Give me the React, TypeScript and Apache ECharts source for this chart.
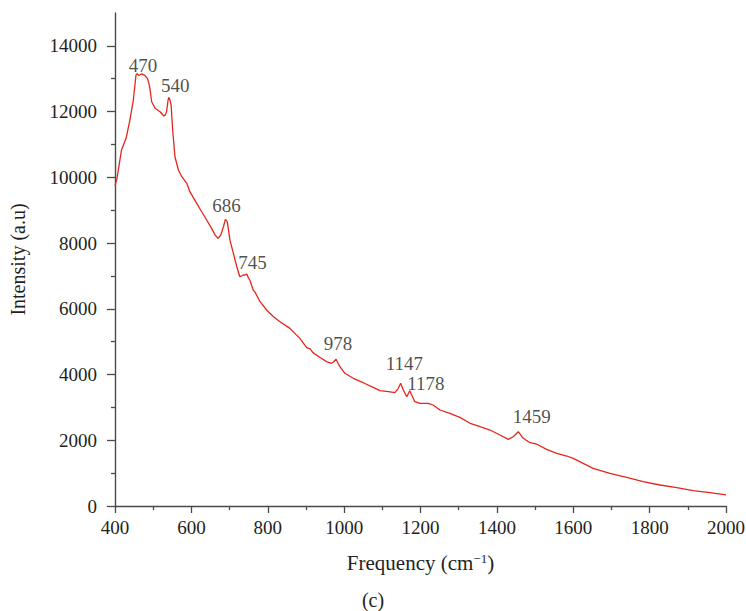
import React, { useEffect, useRef } from "react";
import * as echarts from "echarts";

const frequency = [
  400, 405, 417, 429, 439, 448, 455, 458, 463, 470, 478, 485, 490, 492, 496, 505, 518, 528, 532, 535,
  539, 541, 544, 547, 551, 557, 566, 575, 588, 596, 614, 627, 640, 653, 662, 670, 677, 684, 689, 694,
  701, 710, 719, 727, 736, 740, 745, 749, 753, 762, 767, 780, 797, 815, 832, 858, 884, 902, 911, 919,
  937, 954, 967, 972, 979, 985, 989, 1002, 1024, 1050, 1076, 1094, 1116, 1133, 1142, 1148, 1155, 1164,
  1172, 1177, 1185, 1199, 1220, 1233, 1251, 1277, 1303, 1330, 1356, 1382, 1408, 1430, 1443, 1456,
  1469, 1487, 1504, 1530, 1557, 1583, 1600, 1626, 1652, 1696, 1740, 1783, 1827, 1871, 1914, 1958, 2000,
];

const intensity = [
  9750, 9950, 10830, 11187, 11743, 12352, 13112, 13150, 13100, 13150, 13100, 13012, 12800, 12656, 12300,
  12100, 11996, 11865, 11900, 12000, 12350, 12434, 12350, 12200, 11440, 10627, 10222, 10019, 9817, 9563,
  9209, 8953, 8701, 8448, 8245, 8144, 8245, 8497, 8722, 8650, 8092, 7688, 7280, 6976, 7028, 7028, 7060,
  6950, 6876, 6571, 6500, 6216, 5963, 5760, 5608, 5405, 5100, 4820, 4780, 4660, 4520, 4392, 4342, 4380,
  4463, 4320, 4240, 4038, 3885, 3751, 3611, 3508, 3477, 3447, 3581, 3733, 3529, 3325, 3508, 3377, 3173,
  3124, 3124, 3073, 2921, 2820, 2698, 2516, 2413, 2312, 2160, 2029, 2108, 2260, 2060, 1926, 1886, 1725,
  1603, 1521, 1451, 1299, 1147, 995, 873, 739, 639, 557, 465, 405, 340,
];

const peakLabels = ["470", "540", "686", "745", "978", "1147", "1178", "1459"];
const peakLabelX = [473, 558, 692, 760, 984, 1158, 1214, 1491];
const peakLabelY = [13417, 12787, 9157, 7402, 4959, 4350, 3742, 2717];

const yMajorTicks = [0, 2000, 4000, 6000, 8000, 10000, 12000, 14000];
const yMinorTicks = [1000, 3000, 5000, 7000, 9000, 11000, 13000];

const FONT = "'Liberation Serif', 'Times New Roman', serif";
const TEXT = "#231f20";
const AXIS = "#4a4a4a";

export default function App() {
  const ref = useRef<HTMLDivElement>(null);

  useEffect(() => {
    if (!ref.current) return;
    const chart = echarts.init(ref.current, undefined, { renderer: "svg" });
    const lineData = frequency.map((f, i) => [f, intensity[i]]);
    const peakData = peakLabels.map((l, i) => [peakLabelX[i], peakLabelY[i], l]);

    chart.setOption({
      animation: false,
      backgroundColor: "#ffffff",
      title: {
        text: "(c)",
        left: "center",
        top: 585,
        textStyle: { fontFamily: FONT, fontSize: 20, fontWeight: "normal", color: TEXT },
      },
      grid: { left: 115, right: 20, top: 13, bottom: 105, containLabel: false, outerBoundsMode: "none" },
      xAxis: {
        type: "value",
        min: 400,
        max: 2000,
        interval: 200,
        axisLine: { show: true, lineStyle: { color: AXIS, width: 1.4 } },
        axisTick: { show: true, length: 7, lineStyle: { color: AXIS, width: 1.3 } },
        minorTick: { show: true, splitNumber: 2, length: 4, lineStyle: { color: AXIS, width: 1.3 } },
        splitLine: { show: false },
        axisLabel: {
          margin: 12,
          fontFamily: FONT,
          fontSize: 19,
          color: TEXT,
          formatter: (v: number) => String(v),
        },
        name: "Frequency (cm{sup|−1})",
        nameLocation: "middle",
        nameGap: 46,
        nameTextStyle: {
          fontFamily: FONT,
          fontSize: 21,
          color: TEXT,
          rich: {
            sup: { fontFamily: FONT, fontSize: 13, color: TEXT, verticalAlign: "top", padding: [0, 0, 9, 0] },
          },
        },
      },
      yAxis: [
        {
          type: "value",
          position: "left",
          min: 0,
          max: 15000,
          interval: 1000,
          axisLine: { show: true, lineStyle: { color: AXIS, width: 1.4 } },
          axisTick: { show: true, length: 4, customValues: yMinorTicks, lineStyle: { color: AXIS, width: 1.3 } },
          axisLabel: { show: false },
          splitLine: { show: false },
        },
        {
          type: "value",
          position: "left",
          min: 0,
          max: 15000,
          interval: 1000,
          axisLine: { show: false },
          axisTick: { show: true, length: 8, customValues: yMajorTicks, lineStyle: { color: AXIS, width: 1.3 } },
          axisLabel: {
            show: true,
            customValues: yMajorTicks,
            margin: 18,
            fontFamily: FONT,
            fontSize: 19,
            color: TEXT,
            formatter: (v: number) => String(v),
          },
          splitLine: { show: false },
          name: "Intensity (a.u)",
          nameLocation: "middle",
          nameGap: 87,
          nameRotate: 90,
          nameTextStyle: { fontFamily: FONT, fontSize: 20, color: TEXT },
        },
      ],
      series: [
        {
          type: "line",
          data: lineData,
          xAxisIndex: 0,
          yAxisIndex: 0,
          showSymbol: false,
          symbol: "none",
          lineStyle: { color: "#e4261c", width: 1.3 },
          silent: true,
        },
        {
          type: "scatter",
          data: peakData,
          xAxisIndex: 0,
          yAxisIndex: 0,
          symbolSize: 0,
          silent: true,
          label: {
            show: true,
            position: "inside",
            formatter: (p: any) => p.data[2],
            fontFamily: FONT,
            fontSize: 19,
            color: TEXT,
          },
        },
      ],
    });

    return () => chart.dispose();
  }, []);

  return (
    <div
      ref={ref}
      style={{ position: "fixed", left: 0, top: 0, width: 746, height: 611, background: "#fff" }}
    />
  );
}
